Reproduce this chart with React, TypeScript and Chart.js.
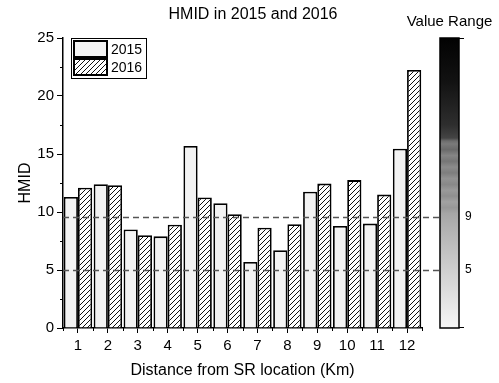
import React, { useEffect, useRef } from "react";
import { Chart, registerables } from "chart.js";

Chart.register(...registerables);

const categories = ["1", "2", "3", "4", "5", "6", "7", "8", "9", "10", "11", "12"];
const values2015 = [11.3, 12.4, 8.5, 7.9, 15.7, 10.75, 5.7, 6.7, 11.75, 8.8, 9.0, 15.45];
const values2016 = [12.1, 12.3, 8.0, 8.9, 11.25, 9.8, 8.65, 8.95, 12.45, 12.75, 11.5, 22.25];
const seriesNames = ["2015", "2016"];
const thresholdValues = [9.6, 5];
const thresholdLabels = ["9", "5"];
const yMin = 0;
const yMax = 25;
const yStep = 5;
const chartTitle = "HMID in 2015 and 2016";
const colorbarTitle = "Value Range";
const xTitle = "Distance from SR location (Km)";
const yTitle = "HMID";

const FONT = "'Liberation Sans', Arial, sans-serif";

function makeHatch(): CanvasPattern | string {
  const c = document.createElement("canvas");
  const s = 5;
  c.width = s;
  c.height = s;
  const g = c.getContext("2d");
  if (!g) return "#fff";
  g.fillStyle = "#ffffff";
  g.fillRect(0, 0, s, s);
  g.strokeStyle = "#111";
  g.lineWidth = 1;
  g.beginPath();
  g.moveTo(-1, s + 1);
  g.lineTo(s + 1, -1);
  g.moveTo(-1, 1);
  g.lineTo(1, -1);
  g.moveTo(s - 1, s + 1);
  g.lineTo(s + 1, s - 1);
  g.stroke();
  const p = g.createPattern(c, "repeat");
  return p || "#fff";
}

export default function App() {
  const ref = useRef<HTMLCanvasElement | null>(null);

  useEffect(() => {
    document.body.style.margin = "0";
    const canvas = ref.current;
    if (!canvas) return;
    const hatch = makeHatch();
    const fill2015 = "#f3f3f3";

    const deco = {
      id: "deco",
      afterDatasetsDraw(chart: any) {
        const { ctx, chartArea, scales } = chart;
        const y = scales.y;
        const cbRight = chartArea.right + 37;
        ctx.save();
        ctx.strokeStyle = "#555";
        ctx.lineWidth = 1.5;
        ctx.setLineDash([6, 4]);
        thresholdValues.forEach((v) => {
          const py = Math.round(y.getPixelForValue(v)) + 0.5;
          ctx.beginPath();
          ctx.moveTo(chartArea.left, py);
          ctx.lineTo(cbRight, py);
          ctx.stroke();
        });
        ctx.restore();
      },
      afterDraw(chart: any) {
        const { ctx, chartArea, scales } = chart;
        const x = scales.x;
        const y = scales.y;
        ctx.save();
        // minor ticks y
        ctx.strokeStyle = "#000";
        ctx.lineWidth = 1;
        for (let v = yMin + yStep / 2; v < yMax; v += yStep) {
          const py = Math.round(y.getPixelForValue(v)) + 0.5;
          ctx.beginPath();
          ctx.moveTo(chartArea.left - 3, py);
          ctx.lineTo(chartArea.left, py);
          ctx.stroke();
        }
        // minor ticks x at category boundaries
        for (let i = 0; i <= categories.length; i++) {
          let px: number;
          if (i === 0) px = chartArea.left;
          else if (i === categories.length) px = chartArea.right;
          else px = (x.getPixelForValue(i - 1) + x.getPixelForValue(i)) / 2;
          px = Math.round(px) + 0.5;
          ctx.beginPath();
          ctx.moveTo(px, chartArea.bottom);
          ctx.lineTo(px, chartArea.bottom + 3);
          ctx.stroke();
        }

        // legend
        const lx = chartArea.left + 8;
        const ly = chartArea.top;
        ctx.lineWidth = 1;
        ctx.strokeStyle = "#000";
        ctx.fillStyle = "#fff";
        ctx.fillRect(lx, ly, 75, 40);
        ctx.strokeRect(lx + 0.5, ly + 0.5, 75, 40);
        const fills = [fill2015, hatch];
        seriesNames.forEach((name, i) => {
          const sy = ly + 3 + i * 18;
          ctx.fillStyle = fills[i] as any;
          ctx.fillRect(lx + 3, sy, 33, 16);
          ctx.lineWidth = 2;
          ctx.strokeRect(lx + 3, sy, 33, 16);
          ctx.fillStyle = "#000";
          ctx.font = `14px ${FONT}`;
          ctx.textAlign = "left";
          ctx.textBaseline = "middle";
          ctx.fillText(name, lx + 40, sy + 9);
        });

        // color bar
        const cbL = chartArea.right + 18;
        const cbW = 19;
        const cbT = y.getPixelForValue(yMax);
        const cbB = y.getPixelForValue(yMin);
        const grad = ctx.createLinearGradient(0, cbT, 0, cbB);
        grad.addColorStop(0, "#020202");
        grad.addColorStop(0.15, "#121212");
        grad.addColorStop(0.3, "#2e2e2e");
        grad.addColorStop(0.345, "#444444");
        grad.addColorStop(0.355, "#6c6c6c");
        const stripes = ["#7a7a7a", "#6a6a6a", "#858585", "#767676", "#8c8c8c", "#7e7e7e", "#939393", "#888888", "#9a9a9a", "#8f8f8f", "#a2a2a2", "#989898", "#a6a6a6"];
        stripes.forEach((c, i) => {
          grad.addColorStop(0.365 + i * 0.02, c);
        });
        grad.addColorStop(0.65, "#b0b0b0");
        grad.addColorStop(0.8, "#cfcfcf");
        grad.addColorStop(1, "#f6f6f6");
        ctx.fillStyle = grad;
        ctx.fillRect(cbL, cbT, cbW, cbB - cbT);
        ctx.lineWidth = 1.5;
        ctx.strokeStyle = "#000";
        ctx.strokeRect(cbL, cbT, cbW, cbB - cbT);
        ctx.lineWidth = 1;
        ctx.beginPath();
        ctx.moveTo(cbL + cbW, cbT + 0.5);
        ctx.lineTo(cbL + cbW + 5, cbT + 0.5);
        ctx.moveTo(cbL + cbW, cbB - 0.5);
        ctx.lineTo(cbL + cbW + 5, cbB - 0.5);
        ctx.stroke();
        ctx.fillStyle = "#000";
        ctx.font = `12px ${FONT}`;
        ctx.textAlign = "left";
        ctx.textBaseline = "middle";
        thresholdValues.forEach((v, i) => {
          ctx.fillText(thresholdLabels[i], cbL + cbW + 6, y.getPixelForValue(v));
        });

        // titles
        ctx.font = `16px ${FONT}`;
        ctx.textAlign = "center";
        ctx.fillText(chartTitle, 253, 15);
        ctx.font = `15px ${FONT}`;
        ctx.fillText(colorbarTitle, cbL + cbW / 2, 22);
        ctx.restore();
      },
    };

    const chart = new Chart(canvas, {
      type: "bar",
      data: {
        labels: categories,
        datasets: [
          {
            label: seriesNames[0],
            data: values2015,
            backgroundColor: fill2015,
            borderColor: "#000",
            borderWidth: 1.8,
            categoryPercentage: 0.95,
            barPercentage: 1,
          },
          {
            label: seriesNames[1],
            data: values2016,
            backgroundColor: hatch as any,
            borderColor: "#000",
            borderWidth: 1.8,
            categoryPercentage: 0.95,
            barPercentage: 1,
          },
        ],
      },
      options: {
        responsive: false,
        animation: false,
        devicePixelRatio: 1,
        layout: { padding: { left: 0, right: 77, top: 38, bottom: 0 } },
        plugins: {
          legend: { display: false },
          title: { display: false },
          tooltip: { enabled: false },
        },
        scales: {
          x: {
            offset: true,
            grid: {
              offset: false,
              drawOnChartArea: false,
              drawTicks: true,
              tickLength: 5,
              color: "#000",
            },
            border: { display: true, color: "#000", width: 1.5 },
            ticks: {
              color: "#000",
              font: { family: FONT, size: 15 },
              padding: 4,
              maxRotation: 0,
              autoSkip: false,
            },
            title: {
              display: true,
              text: xTitle,
              color: "#000",
              font: { family: FONT, size: 16 },
              padding: { top: 0, bottom: 3 },
            },
            afterFit(scale: any) {
              scale.height = 55;
            },
          },
          y: {
            min: yMin,
            max: yMax,
            grid: {
              drawOnChartArea: false,
              drawTicks: true,
              tickLength: 6,
              color: "#000",
            },
            border: { display: true, color: "#000", width: 1.5 },
            ticks: {
              stepSize: yStep,
              color: "#000",
              font: { family: FONT, size: 15 },
              padding: 3,
            },
            title: {
              display: true,
              text: yTitle,
              color: "#000",
              font: { family: FONT, size: 16 },
              padding: { top: 16, bottom: 0 },
            },
            afterFit(scale: any) {
              scale.width = 63;
            },
          },
        },
      },
      plugins: [deco],
    });

    return () => chart.destroy();
  }, []);

  return (
    <div style={{ position: "relative", width: 499, height: 383 }}>
      <canvas ref={ref} width={499} height={383} style={{ display: "block" }} />
    </div>
  );
}
